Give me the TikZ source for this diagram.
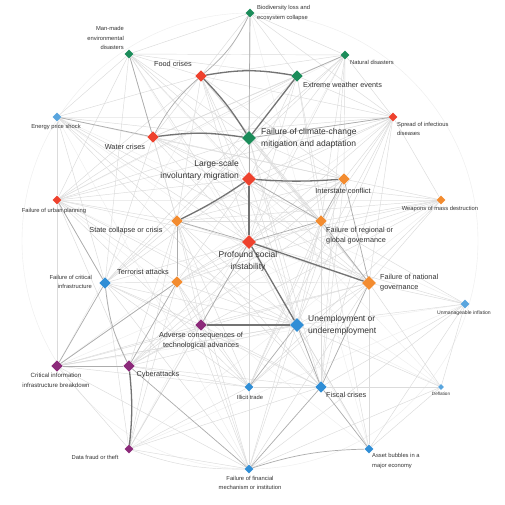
\documentclass[tikz,border=0pt]{standalone}
\usepackage{fontspec}
\setmainfont{Liberation Sans}
\usetikzlibrary{shapes.geometric,backgrounds}
\definecolor{riskgreen}{RGB}{27,140,90}
\definecolor{riskred}{RGB}{238,66,46}
\definecolor{riskorange}{RGB}{243,140,48}
\definecolor{riskblue}{RGB}{48,142,214}
\definecolor{riskpurple}{RGB}{140,42,122}
\definecolor{labelgray}{RGB}{51,51,51}
\tikzset{
  risk/.style={diamond,aspect=1,inner sep=0pt,draw=none},
  risk big/.style={risk,minimum size=14pt},
  risk mid/.style={risk,minimum size=11.5pt},
  risk small/.style={risk,minimum size=9pt},
  risk tiny/.style={risk,minimum size=6pt},
  big label/.style={inner sep=0pt,text=labelgray,font=\fontsize{8.5}{12}\selectfont},
  mid label/.style={inner sep=0pt,text=labelgray,font=\fontsize{7.3}{10}\selectfont},
  small label/.style={inner sep=0pt,text=labelgray,font=\fontsize{5.8}{9.5}\selectfont},
  tiny label/.style={inner sep=0pt,text=labelgray,font=\fontsize{4.6}{6}\selectfont},
  faint link/.style={gray!14,line width=0.4pt},
  light link/.style={gray!28,line width=0.45pt},
  mid link/.style={gray!65,line width=0.7pt},
  strong link/.style={black!55,line width=1.3pt},
}
\begin{document}
\begin{tikzpicture}[x=1pt,y=-1pt]
  \useasboundingbox (0,0) rectangle (505,504);
  % risks
  \node[risk small,fill=riskgreen] (bio) at (250,13) {};
  \node[risk small,fill=riskgreen] (manmade) at (129,54) {};
  \node[risk mid,fill=riskred] (food) at (201,76) {};
  \node[risk small,fill=riskgreen] (natdis) at (345,55) {};
  \node[risk mid,fill=riskgreen] (extreme) at (297,76) {};
  \node[risk small,fill=riskblue!80] (energy) at (57,117) {};
  \node[risk small,fill=riskred] (spread) at (393,117) {};
  \node[risk mid,fill=riskred] (water) at (153,137) {};
  \node[risk big,fill=riskgreen] (climate) at (249,138) {};
  \node[risk big,fill=riskred] (migration) at (249,179) {};
  \node[risk small,fill=riskred] (urban) at (57,200) {};
  \node[risk mid,fill=riskorange] (interstate) at (344,179) {};
  \node[risk small,fill=riskorange] (wmd) at (441,200) {};
  \node[risk mid,fill=riskorange] (statecol) at (177,221) {};
  \node[risk mid,fill=riskorange] (regional) at (321,221) {};
  \node[risk big,fill=riskred] (social) at (249,242) {};
  \node[risk mid,fill=riskblue] (critinfra) at (105,283) {};
  \node[risk mid,fill=riskorange] (terror) at (177,282) {};
  \node[risk big,fill=riskorange] (national) at (369,283) {};
  \node[risk small,fill=riskblue!80] (inflation) at (465,304) {};
  \node[risk mid,fill=riskpurple] (adverse) at (201,325) {};
  \node[risk big,fill=riskblue] (unemploy) at (297,325) {};
  \node[risk mid,fill=riskpurple] (critinfo) at (57,366) {};
  \node[risk mid,fill=riskpurple] (cyber) at (129,366) {};
  \node[risk small,fill=riskblue] (illicit) at (249,387) {};
  \node[risk mid,fill=riskblue] (fiscal) at (321,387) {};
  \node[risk tiny,fill=riskblue!80] (deflation) at (441,387) {};
  \node[risk small,fill=riskpurple] (datafraud) at (129,449) {};
  \node[risk small,fill=riskblue] (bubbles) at (369,449) {};
  \node[risk small,fill=riskblue] (financial) at (249,469) {};
  % labels
  \node[small label,anchor=west,align=left] (bio-t) at (257,13) {Biodiversity loss and\\ecosystem collapse};
  \node[small label,anchor=east,align=right] (manmade-t) at (124,38) {Man-made\\environmental\\disasters};
  \node[mid label] (food-t) at (173,64) {Food crises};
  \node[small label,anchor=west] (natdis-t) at (350,62) {Natural disasters};
  \node[mid label,anchor=west] (extreme-t) at (303,85) {Extreme weather events};
  \node[small label] (energy-t) at (56,127) {Energy price shock};
  \node[small label,anchor=west,align=left] (spread-t) at (397,129) {Spread of infectious\\diseases};
  \node[mid label] (water-t) at (125,147) {Water crises};
  \node[big label,anchor=west,align=left] (climate-t) at (261,138) {Failure of climate-change\\mitigation and adaptation};
  \node[big label,anchor=east,align=right] (migration-t) at (239,170) {Large-scale\\involuntary migration};
  \node[small label] (urban-t) at (54,211) {Failure of urban planning};
  \node[mid label] (interstate-t) at (343,191) {Interstate conflict};
  \node[small label] (wmd-t) at (440,209) {Weapons of mass destruction};
  \node[mid label] (statecol-t) at (126,231) {State collapse or crisis};
  \node[mid label,anchor=west,align=left] (regional-t) at (326,235.5) {Failure of regional or\\global governance};
  \node[big label,anchor=north,align=center] (social-t) at (248,251) {Profound social\\instability};
  \node[small label,anchor=east,align=right] (critinfra-t) at (92,282) {Failure of critical\\infrastructure};
  \node[mid label] (terror-t) at (143,272) {Terrorist attacks};
  \node[mid label,anchor=west,align=left] (national-t) at (380,283) {Failure of national\\governance};
  \node[small label,font=\fontsize{5.1}{8}\selectfont] (inflation-t) at (464,313) {Unmanageable inflation};
  \node[mid label,anchor=north,align=center] (adverse-t) at (201,332) {Adverse consequences of\\technological advances};
  \node[big label,anchor=west,align=left] (unemploy-t) at (308,325) {Unemployment or\\underemployment};
  \node[small label,font=\fontsize{6.1}{10}\selectfont,anchor=north,align=center] (critinfo-t) at (56,373) {Critical information\\infrastructure breakdown};
  \node[mid label] (cyber-t) at (158,375) {Cyberattacks};
  \node[small label] (illicit-t) at (250,397) {Illicit trade};
  \node[mid label,anchor=west] (fiscal-t) at (326,395) {Fiscal crises};
  \node[tiny label] (deflation-t) at (441,394) {Deflation};
  \node[small label] (datafraud-t) at (95,457) {Data fraud or theft};
  \node[small label,anchor=west,align=left] (bubbles-t) at (372,461) {Asset bubbles in a\\major economy};
  \node[small label,anchor=north,align=center] (financial-t) at (250,476) {Failure of financial\\mechanism or institution};
  % links
  \begin{scope}[on background layer]
    \fill[white] (0,0) rectangle (505,504);
    \draw[faint link] (250,241) circle[radius=228pt];
    \foreach \a/\b in {energy/inflation,urban/deflation,manmade/bubbles,bio/critinfo,
      natdis/datafraud,spread/critinfo,wmd/critinfo,energy/deflation,urban/bubbles,
      manmade/deflation,critinfo/inflation,datafraud/wmd,energy/financial,bio/bubbles,
      natdis/urban,spread/energy,wmd/urban,inflation/datafraud}
      \draw[faint link] (\a) -- (\b);
    \foreach \a/\b in {bio/manmade,bio/natdis,bio/extreme,bio/water,bio/migration,bio/spread,bio/social,
      manmade/food,manmade/extreme,manmade/climate,manmade/natdis,manmade/energy,manmade/migration,
      manmade/statecol,manmade/urban,manmade/social,manmade/critinfra,manmade/regional,
      food/natdis,food/migration,food/social,food/statecol,food/spread,food/energy,food/urban,
      food/interstate,food/national,food/fiscal,food/regional,
      natdis/climate,natdis/migration,natdis/spread,natdis/water,natdis/critinfra,natdis/social,
      natdis/fiscal,natdis/regional,natdis/interstate,
      extreme/water,extreme/migration,extreme/spread,extreme/social,extreme/urban,extreme/critinfra,
      extreme/regional,extreme/bubbles,
      energy/climate,energy/urban,energy/statecol,energy/social,energy/fiscal,energy/critinfra,
      energy/interstate,energy/national,
      spread/water,spread/migration,spread/social,spread/national,spread/urban,spread/regional,
      spread/statecol,spread/fiscal,spread/wmd,spread/interstate,spread/illicit,spread/unemploy,
      water/migration,water/social,water/statecol,water/urban,water/interstate,water/regional,
      water/national,water/critinfra,
      climate/spread,climate/social,climate/statecol,climate/interstate,climate/regional,climate/urban,
      climate/national,climate/unemploy,climate/fiscal,
      migration/urban,migration/regional,migration/national,migration/terror,migration/unemploy,
      migration/illicit,migration/critinfra,migration/wmd,
      urban/statecol,urban/social,urban/critinfra,urban/terror,urban/critinfo,urban/cyber,
      urban/unemploy,urban/illicit,
      interstate/wmd,interstate/statecol,interstate/social,interstate/terror,interstate/fiscal,
      interstate/illicit,interstate/cyber,interstate/unemploy,
      wmd/terror,wmd/statecol,wmd/regional,wmd/national,wmd/social,wmd/cyber,wmd/illicit,
      statecol/regional,statecol/national,statecol/critinfra,statecol/illicit,statecol/unemploy,
      statecol/fiscal,statecol/adverse,statecol/cyber,statecol/financial,statecol/datafraud,
      regional/terror,regional/unemploy,regional/fiscal,regional/financial,regional/inflation,
      regional/illicit,regional/cyber,
      social/terror,social/critinfra,social/illicit,social/fiscal,social/financial,social/cyber,
      social/inflation,social/datafraud,social/bubbles,
      critinfra/terror,critinfra/adverse,critinfra/illicit,critinfra/unemploy,critinfra/fiscal,
      critinfra/datafraud,critinfra/financial,
      terror/national,terror/adverse,terror/illicit,terror/unemploy,terror/critinfo,terror/datafraud,
      terror/financial,
      national/unemploy,national/illicit,national/inflation,national/adverse,national/financial,
      national/bubbles,national/deflation,national/critinfo,
      inflation/fiscal,inflation/unemploy,inflation/bubbles,inflation/deflation,inflation/financial,
      adverse/cyber,adverse/critinfo,adverse/illicit,adverse/fiscal,adverse/datafraud,adverse/financial,
      unemploy/financial,unemploy/bubbles,unemploy/deflation,unemploy/cyber,unemploy/critinfo,
      critinfo/datafraud,critinfo/financial,critinfo/illicit,critinfo/unemploy,
      cyber/illicit,cyber/fiscal,illicit/fiscal,illicit/financial,illicit/datafraud,
      fiscal/deflation,deflation/bubbles,deflation/financial,datafraud/financial,datafraud/fiscal}
      \draw[light link] (\a) -- (\b);
    \foreach \a/\b in {bio/climate,climate/migration,social/statecol,manmade/water,energy/water,
      extreme/natdis,climate/spread,cyber/critinfo,critinfra/critinfo,cyber/terror,cyber/financial,
      regional/interstate,regional/national,migration/regional,national/interstate,fiscal/unemploy,
      bubbles/fiscal,statecol/terror,critinfra/urban,adverse/social,terror/critinfo,
      fiscal/financial,illicit/unemploy,social/regional,fiscal/national}
      \draw[mid link] (\a) -- (\b);
    \draw[mid link] (food) to[bend right=12] (bio);
    \draw[mid link] (water) to[bend left=10] (food);
    \draw[mid link] (critinfra) to[bend right=10] (cyber);
    \draw[mid link] (bubbles) to[bend right=8] (financial);
    \draw[light link] (datafraud) to[bend right=10] (financial);
    \draw[strong link] (food) to[bend left=6] (climate);
    \draw[strong link] (water) to[bend left=8] (climate);
    \draw[strong link] (food) to[bend left=10] (extreme);
    \draw[strong link] (extreme) -- (climate);
    \draw[strong link] (migration) to[bend left=4] (statecol);
    \draw[strong link] (migration) -- (social);
    \draw[strong link] (migration) to[bend right=4] (interstate);
    \draw[strong link] (social) -- (national);
    \draw[strong link] (social) -- (unemploy);
    \draw[strong link] (unemploy) -- (adverse);
    \draw[strong link] (cyber) to[bend left=6] (datafraud);
  \end{scope}
\end{tikzpicture}
\end{document}
